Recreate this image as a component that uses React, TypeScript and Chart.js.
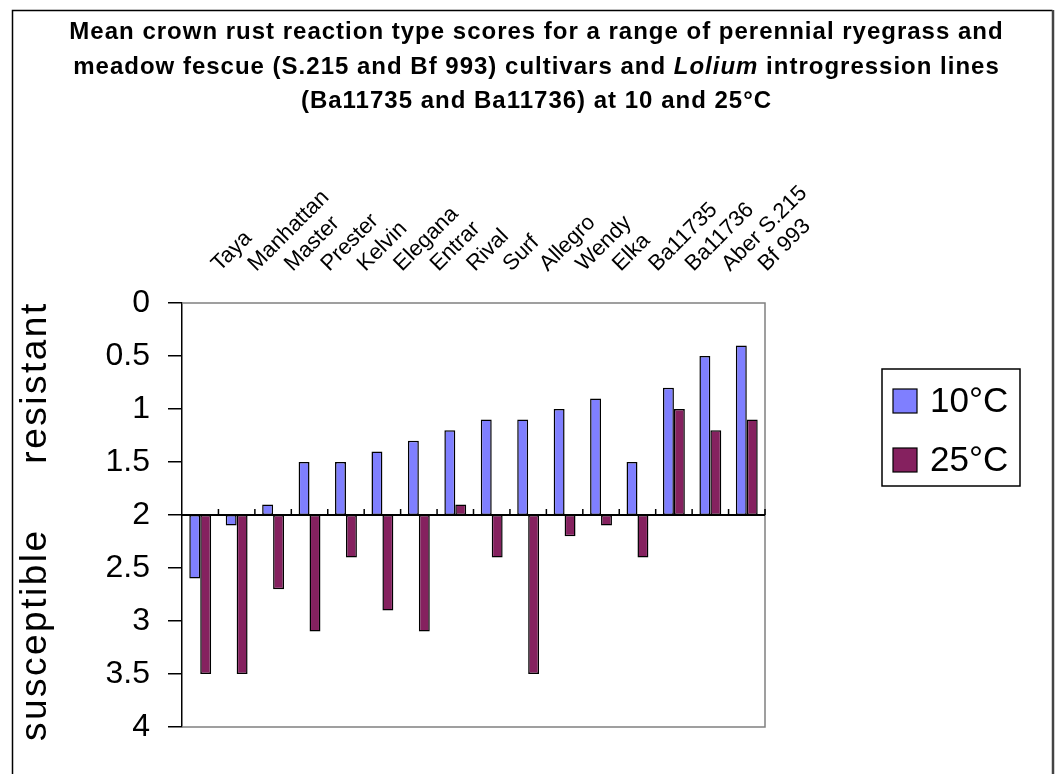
import React, { useEffect, useRef } from "react";
import { Chart, registerables } from "chart.js";

Chart.register(...registerables);

const categories = [
  "Taya", "Manhattan", "Master", "Prester", "Kelvin", "Elegana", "Entrar", "Rival",
  "Surf", "Allegro", "Wendy", "Elka", "Ba11735", "Ba11736", "Aber S.215", "Bf 993",
];
const scores10 = [2.6, 2.1, 1.9, 1.5, 1.5, 1.4, 1.3, 1.2, 1.1, 1.1, 1.0, 0.9, 1.5, 0.8, 0.5, 0.4];
const scores25 = [3.5, 3.5, 2.7, 3.1, 2.4, 2.9, 3.1, 1.9, 2.4, 3.5, 2.2, 2.1, 2.4, 1.0, 1.2, 1.1];
const seriesLabels = ["10°C", "25°C"];
const seriesColors = ["#7F7FFF", "#85215F"];
const baselineValue = 2;
const yMin = 0;
const yMax = 4;
const yStep = 0.5;
const sideLabels = ["resistant", "susceptible"];
const sideLabelValues = [0.75, 3.13];
const titleLine1 = "Mean crown rust reaction type scores for a range of perennial ryegrass and";
const titleLine2Parts = [
  { text: "meadow fescue (S.215 and Bf 993) cultivars and ", italic: false },
  { text: "Lolium", italic: true },
  { text: " introgression lines", italic: false },
];
const titleLine3 = "(Ba11735 and Ba11736) at 10 and 25°C";

const FONT = "'Liberation Sans', Arial, sans-serif";

const decorPlugin = {
  id: "decor",
  beforeDraw(chart: any) {
    const ctx = chart.ctx as any;
    const W = chart.width;
    const H = chart.height;
    ctx.save();
    ctx.fillStyle = "#ffffff";
    ctx.fillRect(0, 0, W, H);
    // outer frame
    ctx.strokeStyle = "#000000";
    ctx.lineWidth = 1.5;
    ctx.beginPath();
    ctx.moveTo(12.5, H + 2);
    ctx.lineTo(12.5, 10.5);
    ctx.lineTo(W - 4.5, 10.5);
    ctx.stroke();
    ctx.strokeStyle = "#444444";
    ctx.lineWidth = 2.5;
    ctx.beginPath();
    ctx.moveTo(W - 4, 10);
    ctx.lineTo(W - 4, H + 2);
    ctx.stroke();

    // title
    const cx = W / 2 + 8;
    ctx.fillStyle = "#000000";
    ctx.textBaseline = "middle";
    ctx.textAlign = "center";
    ctx.letterSpacing = "1px";
    ctx.font = `bold 24px ${FONT}`;
    ctx.fillText(titleLine1, cx, 32);
    ctx.fillText(titleLine3, cx, 101);
    // mixed line
    ctx.textAlign = "left";
    const fonts = titleLine2Parts.map((p) => (p.italic ? `italic bold 24px ${FONT}` : `bold 24px ${FONT}`));
    let total = 0;
    const widths = titleLine2Parts.map((p, i) => {
      ctx.font = fonts[i];
      const w = ctx.measureText(p.text).width;
      total += w;
      return w;
    });
    let x = cx - total / 2;
    titleLine2Parts.forEach((p, i) => {
      ctx.font = fonts[i];
      ctx.fillText(p.text, x, 67);
      x += widths[i];
    });
    ctx.letterSpacing = "0px";
    ctx.restore();
  },
  beforeDatasetsDraw(chart: any) {
    const ctx = chart.ctx as CanvasRenderingContext2D;
    const a = chart.chartArea;
    ctx.save();
    ctx.strokeStyle = "#808080";
    ctx.lineWidth = 1.5;
    ctx.beginPath();
    ctx.moveTo(a.left, a.top);
    ctx.lineTo(a.right, a.top);
    ctx.lineTo(a.right, a.bottom);
    ctx.lineTo(a.left, a.bottom);
    ctx.stroke();
    ctx.restore();
  },
  afterDatasetsDraw(chart: any) {
    const ctx = chart.ctx as CanvasRenderingContext2D;
    const a = chart.chartArea;
    const xs = chart.scales.x;
    const ys = chart.scales.y;
    const y0 = ys.getPixelForValue(baselineValue);
    ctx.save();
    ctx.strokeStyle = "#000000";
    ctx.lineWidth = 2;
    ctx.beginPath();
    ctx.moveTo(a.left, y0);
    ctx.lineTo(a.right, y0);
    ctx.stroke();
    ctx.lineWidth = 1.5;
    const n = categories.length;
    const step = (a.right - a.left) / n;
    ctx.beginPath();
    for (let i = 1; i <= n; i++) {
      const tx = xs.getPixelForValue(i - 1) + step / 2;
      ctx.moveTo(tx, y0);
      ctx.lineTo(tx, y0 - 6);
    }
    ctx.stroke();
    ctx.restore();
  },
  afterDraw(chart: any) {
    const ctx = chart.ctx as any;
    const a = chart.chartArea;
    const ys = chart.scales.y;
    ctx.save();
    // side labels
    ctx.fillStyle = "#000000";
    ctx.font = `37px ${FONT}`;
    ctx.letterSpacing = "2.5px";
    ctx.textAlign = "center";
    ctx.textBaseline = "middle";
    sideLabels.forEach((t, i) => {
      ctx.save();
      ctx.translate(36, ys.getPixelForValue(sideLabelValues[i]));
      ctx.rotate(-Math.PI / 2);
      ctx.fillText(t, 0, 0);
      ctx.restore();
    });
    ctx.letterSpacing = "0px";
    // legend
    const bx = a.right + 117;
    const by = a.top + 66;
    const bw = 138;
    const bh = 117;
    ctx.strokeStyle = "#000000";
    ctx.lineWidth = 1.5;
    ctx.strokeRect(bx, by, bw, bh);
    ctx.font = `35px ${FONT}`;
    ctx.textAlign = "left";
    seriesLabels.forEach((lab, i) => {
      const sy = by + 20 + i * 59;
      ctx.fillStyle = seriesColors[i];
      ctx.fillRect(bx + 11, sy, 24, 24);
      ctx.strokeStyle = "#000000";
      ctx.lineWidth = 1.2;
      ctx.strokeRect(bx + 11, sy, 24, 24);
      ctx.fillStyle = "#000000";
      ctx.fillText(lab, bx + 48, sy + 13);
    });
    ctx.restore();
  },
};

export default function App() {
  const canvasRef = useRef<HTMLCanvasElement | null>(null);

  useEffect(() => {
    document.body.style.margin = "0";
    const canvas = canvasRef.current;
    if (!canvas) return;
    const chart = new Chart(canvas, {
      type: "bar",
      data: {
        labels: categories,
        datasets: [
          {
            label: seriesLabels[0],
            data: scores10.map((v) => [baselineValue, v]) as any,
            backgroundColor: seriesColors[0],
            borderColor: "#000000",
            borderWidth: 1.5,
            borderSkipped: false,
          },
          {
            label: seriesLabels[1],
            data: scores25.map((v) => [baselineValue, v]) as any,
            backgroundColor: seriesColors[1],
            borderColor: "#000000",
            borderWidth: 1.5,
            borderSkipped: false,
          },
        ],
      },
      options: {
        animation: false,
        responsive: true,
        maintainAspectRatio: false,
        layout: { padding: { left: 0, top: 0, right: 292, bottom: 47 } },
        plugins: {
          legend: { display: false },
          title: { display: false },
          tooltip: { enabled: false },
        },
        datasets: {
          bar: { categoryPercentage: 0.6, barPercentage: 1.0 },
        },
        scales: {
          x: {
            type: "category",
            position: "top",
            offset: true,
            grid: { display: false, drawTicks: false, tickLength: 0 },
            border: { display: false },
            ticks: {
              autoSkip: false,
              minRotation: 45,
              maxRotation: 45,
              padding: 26,
              labelOffset: 34,
              color: "#000000",
              font: { family: FONT, size: 22 },
            },
            afterFit: (scale: any) => {
              scale.height = 303;
            },
          },
          y: {
            type: "linear",
            reverse: true,
            min: yMin,
            max: yMax,
            grid: {
              drawOnChartArea: false,
              drawTicks: true,
              tickLength: 14,
              color: "#000000",
              lineWidth: 1.5,
            },
            border: { display: true, color: "#000000", width: 1.5 },
            ticks: {
              stepSize: yStep,
              padding: 18,
              color: "#000000",
              font: { family: FONT, size: 32 },
              callback: (v: any) => `${v}`,
            },
            afterFit: (scale: any) => {
              scale.width = 182;
            },
          },
        },
      },
      plugins: [decorPlugin],
    });
    return () => chart.destroy();
  }, []);

  return (
    <div style={{ position: "relative", width: 1057, height: 774 }}>
      <canvas ref={canvasRef} />
    </div>
  );
}
